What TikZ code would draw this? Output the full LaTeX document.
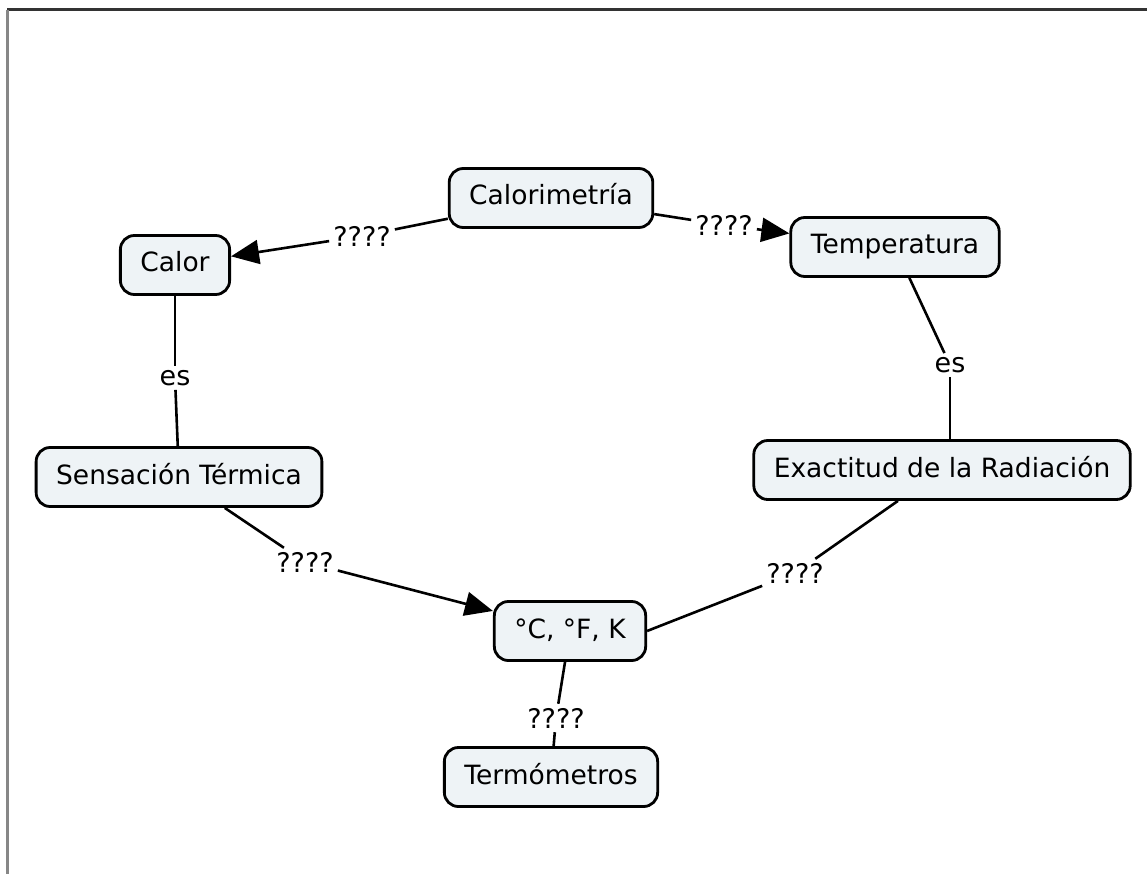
\documentclass[tikz,border=0pt]{standalone}
\usepackage{fontspec}
\setmainfont{DejaVu Sans}
\usetikzlibrary{arrows.meta}
\definecolor{boxfill}{RGB}{238,243,246}
\definecolor{framegray}{RGB}{135,135,135}
\tikzset{
  concept/.style={draw=black, line width=2.8pt, fill=boxfill, rounded corners=14pt,
    minimum height=59pt, inner xsep=20pt, text height=19pt, text depth=5pt,
    font=\fontsize{26.5}{30}\selectfont},
  linklabel/.style={fill=white, inner sep=4pt, font=\fontsize{27}{30}\selectfont},
  link/.style={line width=2.6pt},
  arrowlink/.style={line width=2.6pt, -{Triangle[length=28pt,width=24pt]}},
}
\begin{document}
\begin{tikzpicture}[x=1pt,y=-1pt]
\useasboundingbox (0,0) rectangle (1147,874);
% page frame (top and left edges)
\coordinate (ftl) at (7,10);
\coordinate (ftr) at (1147,10);
\coordinate (fbl) at (7,874);
\draw[line width=3pt, black!80] (ftl) -- (ftr);
\draw[line width=3pt, framegray] (ftl) -- (fbl);

% concepts
\node[concept] (calorim) at (551,198) {Calorimetría};
\node[concept] (calor)   at (175,265) {Calor};
\node[concept] (temp)    at (895,247) {Temperatura};
\node[concept] (sens)    at (179,477) {Sensación Térmica};
\node[concept] (exact)   at (942,470) {Exactitud de la Radiación};
\node[concept] (units)   at (570,631) {°C, °F, K};
\node[concept] (termo)   at (551,777) {Termómetros};

% linking phrases
\node[linklabel] (l1) at (362,236) {????};
\node[linklabel] (l2) at (724,225) {????};
\node[linklabel] (l3) at (175,378) {es};
\node[linklabel] (l4) at (950,365) {es};
\node[linklabel] (l5) at (305,562) {????};
\node[linklabel] (l6) at (795,573) {????};
\node[linklabel] (l7) at (556,718) {????};

% connections
\draw[link] (calorim) -- (l1);
\draw[arrowlink] (l1) -- (calor);
\draw[link] (calorim) -- (l2);
\draw[arrowlink] (l2) -- (temp);
\draw[link] (calor) -- (l3);
\draw[link] (l3) -- (sens);
\draw[link] (temp) -- (l4);
\draw[link] (l4) -- (exact.north -| l4);
\draw[link] (sens) -- (l5);
\draw[arrowlink] (l5) -- (units);
\draw[link] (exact) -- (l6);
\draw[link] (l6) -- (units.east);
\draw[link] (units) -- (l7);
\draw[link] (l7) -- (termo);
\end{tikzpicture}
\end{document}
